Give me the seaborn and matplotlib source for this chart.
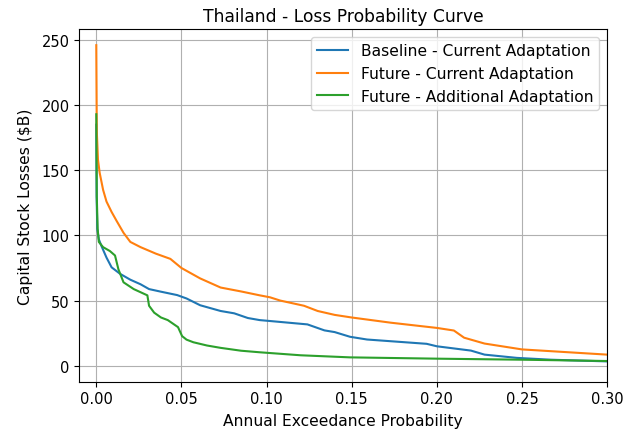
import matplotlib
matplotlib.use("Agg")
import matplotlib.pyplot as plt
import seaborn as sns

base_prob = [0, 0.0002, 0.0006, 0.0015, 0.003, 0.006, 0.009, 0.014, 0.020, 0.026, 0.031, 0.038,
             0.0475, 0.053, 0.061, 0.073, 0.081, 0.089, 0.096, 0.102, 0.124, 0.134, 0.140, 0.149,
             0.159, 0.194, 0.200, 0.220, 0.228, 0.247, 0.267, 0.30]
base_loss = [185, 130, 105, 97, 92, 83, 75.5, 70.5, 66, 62.5, 58.8, 56.8,
             54.2, 51.6, 46.4, 42, 40.2, 36.6, 35, 34.3, 31.7, 27.1, 25.8, 22.2,
             20.1, 16.8, 14.9, 11.6, 8.5, 6, 4.6, 3.3]

fut_prob = [0, 0.0003, 0.001, 0.002, 0.004, 0.006, 0.009, 0.012, 0.016, 0.020, 0.026, 0.035,
            0.0435, 0.05, 0.061, 0.073, 0.085, 0.096, 0.102, 0.108, 0.122, 0.130, 0.140, 0.150,
            0.173, 0.200, 0.210, 0.216, 0.228, 0.250, 0.275, 0.30]
fut_loss = [246, 180, 158, 148, 135, 126, 118, 111, 102, 95, 91, 86,
            82, 75, 67, 60, 57, 54, 52.5, 50, 46, 42, 39, 37,
            33, 29, 27, 21.5, 17, 12.5, 10.5, 8.5]

add_prob = [0, 0.0003, 0.0008, 0.0015, 0.004, 0.008, 0.011, 0.013, 0.016, 0.022, 0.030, 0.031,
            0.034, 0.038, 0.042, 0.048, 0.0504, 0.053, 0.057, 0.065, 0.073, 0.085, 0.096, 0.12,
            0.149, 0.2, 0.25, 0.3]
add_loss = [193, 130, 105, 95, 91, 88, 84.6, 74, 64, 58.8, 54, 46,
            40.7, 37, 35, 29.6, 22.7, 20, 18, 15.5, 13.7, 11.5, 10.3, 8,
            6.4, 5.4, 4.6, 3.6]

labels = ["Baseline - Current Adaptation", "Future - Current Adaptation",
          "Future - Additional Adaptation"]

fig = plt.figure(figsize=(6.24, 4.31), dpi=100)
ax = fig.add_axes([0.127, 0.112, 0.846, 0.818])

for p, l, lab in zip([base_prob, fut_prob, add_prob], [base_loss, fut_loss, add_loss], labels):
    sns.lineplot(x=p, y=l, label=lab, ax=ax, estimator=None, sort=False, linewidth=1.5)

ax.set_xlim(-0.01, 0.30)
ax.set_ylim(-12.3, 258.3)
ax.grid(True)
ax.tick_params(labelsize=10.5)
ax.set_title("Thailand - Loss Probability Curve", fontsize=12.3)
ax.set_xlabel("Annual Exceedance Probability", fontsize=11.2, labelpad=5)
ax.set_ylabel(r"Capital Stock Losses (\$B)", fontsize=11.2, labelpad=6)
ax.legend(loc="upper right", fontsize=11.2)

fig.savefig("out.png", dpi=100)
